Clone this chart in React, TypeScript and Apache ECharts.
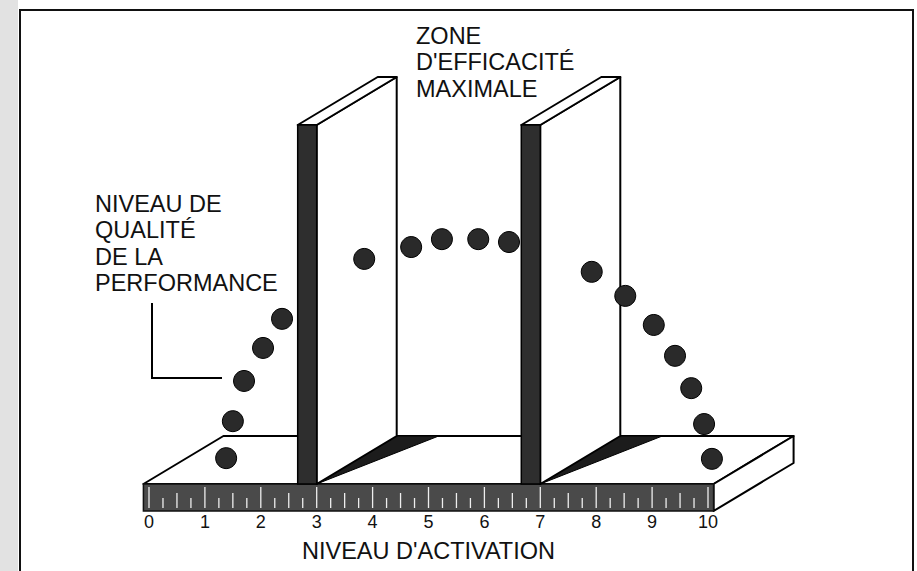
import React, { useEffect, useRef } from "react";
import * as echarts from "echarts";

// Activation axis tick labels
const activationTicks = ["0", "1", "2", "3", "4", "5", "6", "7", "8", "9", "10"];
// Performance quality points (activation level, quality)
const qualityX = [1.38, 1.5, 1.7, 2.04, 2.38, 3.85, 4.69, 5.24, 5.89, 6.44, 7.92, 8.52, 9.03, 9.41, 9.7, 9.93, 10.07];
const qualityY = [0.72, 1.75, 2.87, 3.79, 4.6, 6.27, 6.6, 6.82, 6.82, 6.74, 5.91, 5.24, 4.43, 3.57, 2.67, 1.67, 0.7];
// Zone of maximal efficiency boundaries (activation)
const zoneBounds = [3, 7];
// Texts
const performanceLabel = ["NIVEAU DE", "QUALITÉ", "DE LA", "PERFORMANCE"];
const zoneLabel = ["ZONE", "D'EFFICACITÉ", "MAXIMALE"];
const axisTitle = "NIVEAU D'ACTIVATION";

const FONT = "'Liberation Sans', Arial, Helvetica, sans-serif";

export default function App() {
  const ref = useRef<HTMLDivElement>(null);

  useEffect(() => {
    const chart = echarts.init(ref.current as HTMLDivElement, null, { renderer: "svg" });
    const DX = 80;
    const DY = -48;
    const RULER_H = 27;
    const WALL_T = 0.34;
    const PLAT_X0 = -0.1;
    const PLAT_X1 = 10.1;
    const WALL_TOP = 10;

    const renderScene = (_params: any, api: any) => {
      const p = (x: number, y: number) => api.coord([x, y]);
      const [ax, ay] = p(PLAT_X0, 0);
      const [bx] = p(PLAT_X1, 0);
      const children: any[] = [];
      const line = { stroke: "#000", lineWidth: 2, lineJoin: "round" };
      // platform top face
      children.push({
        type: "polygon",
        shape: { points: [[ax, ay], [bx, ay], [bx + DX, ay + DY], [ax + DX, ay + DY]] },
        style: { fill: "#fff", ...line },
      });
      // platform right side face
      children.push({
        type: "polygon",
        shape: { points: [[bx, ay], [bx + DX, ay + DY], [bx + DX, ay + DY + RULER_H], [bx, ay + RULER_H]] },
        style: { fill: "#fff", ...line },
      });
      // ruler front face
      children.push({
        type: "rect",
        shape: { x: ax, y: ay, width: bx - ax, height: RULER_H },
        style: { fill: "#4a4a4a", stroke: "#111", lineWidth: 1.5 },
      });
      for (let i = 0; i <= 40; i++) {
        const [tx] = p(i / 4, 0);
        const len = i % 4 === 0 ? 21 : i % 2 === 0 ? 15 : 10;
        children.push({
          type: "line",
          shape: { x1: tx, y1: ay + RULER_H - 3, x2: tx, y2: ay + RULER_H - 3 - len },
          style: { stroke: "#eeeeee", lineWidth: 1.3 },
        });
      }
      zoneBounds.forEach((b) => {
        const [fx, fy] = p(b, 0);
        const [lx, ty] = p(b - WALL_T, WALL_TOP);
        children.push({
          type: "polygon",
          shape: { points: [[fx, fy], [fx + DX, fy + DY], [fx + DX + 42, fy + DY]] },
          style: { fill: "#1c1c1c", stroke: "#000", lineWidth: 1 },
        });
        children.push({
          type: "polygon",
          shape: { points: [[fx, ty], [fx + DX, ty + DY], [fx + DX, fy + DY], [fx, fy]] },
          style: { fill: "#fff", ...line },
        });
        children.push({
          type: "polygon",
          shape: { points: [[lx, ty], [fx, ty], [fx + DX, ty + DY], [lx + DX, ty + DY]] },
          style: { fill: "#fff", ...line },
        });
        children.push({
          type: "rect",
          shape: { x: lx, y: ty, width: fx - lx, height: fy - ty },
          style: { fill: "#2e2e2e", stroke: "#000", lineWidth: 1.5 },
        });
      });
      return { type: "group", children };
    };

    const textEl = (text: string, x: number, y: number, size = 23.5) => ({
      type: "text",
      x,
      y,
      style: {
        text,
        fontSize: size,
        fontFamily: FONT,
        fill: "#111",
        textAlign: "left",
        textVerticalAlign: "middle",
      },
      z: 10,
    });

    chart.setOption({
      animation: false,
      backgroundColor: "#fff",
      grid: { left: 149, right: 209, top: 125, bottom: 87 },
      xAxis: {
        type: "value",
        min: 0,
        max: 10,
        interval: 1,
        axisLine: { show: false },
        axisTick: { show: false },
        splitLine: { show: false },
        axisLabel: {
          margin: 29,
          fontSize: 18,
          color: "#111",
          fontFamily: FONT,
          formatter: (v: number) => activationTicks[Math.round(v)] ?? "",
        },
        name: axisTitle,
        nameLocation: "middle",
        nameGap: 55,
        nameTextStyle: { fontSize: 23.5, color: "#111", fontFamily: FONT },
      },
      yAxis: { type: "value", min: 0, max: 10, show: false },
      series: [
        {
          type: "custom",
          coordinateSystem: "cartesian2d",
          renderItem: renderScene,
          data: [[0, 0]],
          clip: false,
          silent: true,
          z: 1,
        },
        {
          type: "scatter",
          data: qualityX.map((x, i) => [x, qualityY[i]]),
          symbol: "circle",
          symbolSize: 21,
          clip: false,
          itemStyle: { color: "#2a2a2a", borderColor: "#000", borderWidth: 1, opacity: 1 },
          z: 5,
        },
      ],
      graphic: [
        { type: "rect", shape: { x: 0, y: 0, width: 18, height: 571 }, style: { fill: "#e2e2e2" }, z: 0 },
        {
          type: "rect",
          shape: { x: 20, y: 10, width: 893, height: 620 },
          style: { fill: "none", stroke: "#111", lineWidth: 2 },
          z: 10,
        },
        ...performanceLabel.map((t, i) => textEl(t, 95, 204 + i * 26.3)),
        ...zoneLabel.map((t, i) => textEl(t, 416, 35.5 + i * 26.7)),
        {
          type: "polyline",
          shape: { points: [[152, 303], [152, 378], [222, 378]] },
          style: { stroke: "#000", lineWidth: 2, fill: "none" },
          z: 10,
        },
      ],
    });

    return () => chart.dispose();
  }, []);

  return (
    <div
      ref={ref}
      style={{ position: "fixed", left: 0, top: 0, width: 917, height: 571, background: "#fff" }}
    />
  );
}
